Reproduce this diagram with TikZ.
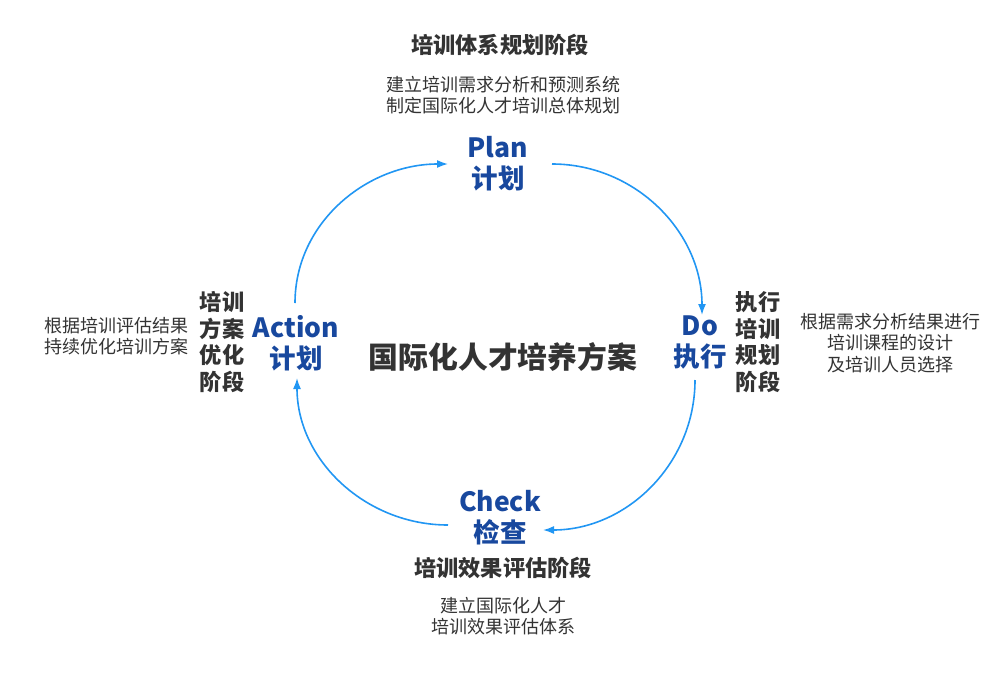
\documentclass[tikz,border=0pt]{standalone}
\usepackage{fontspec}
\setmainfont{Noto Sans CJK SC}
\usetikzlibrary{arrows.meta, positioning}
\definecolor{pdcablue}{RGB}{24,72,158}
\definecolor{arcblue}{RGB}{33,150,243}
\definecolor{textgray}{RGB}{51,51,51}

\begin{document}
\begin{tikzpicture}[
    x=1pt, y=1pt,
    every node/.style={inner sep=0pt, align=center, text=textgray},
    phase/.style={font=\fontsize{26.5}{31}\selectfont\bfseries, text=pdcablue},
    stage/.style={font=\fontsize{22.2}{26.7}\selectfont\bfseries},
    desc/.style={font=\fontsize{18}{21.5}\selectfont},
    title/.style={font=\fontsize{29.8}{34}\selectfont\bfseries},
    arrow/.style={-{Latex[length=11pt,width=8pt]}, line width=1.6pt, arcblue}
]
\useasboundingbox (0,0) rectangle (1007,-675);

\node[title] (main) at (503,-357) {国际化人才培养方案};

% PDCA phases
\node[phase] (plan) at (498,-164) {Plan\\计划};
\node[phase] (do)   at (700,-343) {Do\\执行};
\node[phase] (chk)  at (500,-518) {Check\\检查};
\node[phase] (act)  at (296,-343) {Action\\计划};

% stage titles and descriptions
\node[stage] (plantitle) at (500,-45) {培训体系规划阶段};
\node[desc]  (plandesc)  at (503,-95) {建立培训需求分析和预测系统\\制定国际化人才培训总体规划};

\node[stage] (dotitle) at (758,-342) {执行\\培训\\规划\\阶段};
\node[desc]  (dodesc)  at (890,-343) {根据需求分析结果进行\\培训课程的设计\\及培训人员选择};

\node[stage] (chktitle) at (503,-568) {培训效果评估阶段};
\node[desc]  (chkdesc)  at (503,-616) {建立国际化人才\\培训效果评估体系};

\node[stage] (acttitle) at (222,-342) {培训\\方案\\优化\\阶段};
\node[desc]  (actdesc)  at (116,-336) {根据培训评估结果\\持续优化培训方案};

% cycle
\draw[arrow] ([xshift=-1pt,yshift=40pt]act.center) to[out=90,in=180] ([xshift=-50pt]plan.center);
\draw[arrow] ([xshift=54pt]plan.center) to[out=0,in=90] ([xshift=2pt,yshift=28pt]do.center);
\draw[arrow] ([xshift=-5pt,yshift=-37pt]do.center) to[out=-90,in=0] ([xshift=43pt,yshift=-12pt]chk.center);
\draw[arrow] ([xshift=-52pt,yshift=-7pt]chk.center) to[out=180,in=-90] ([xshift=1pt,yshift=-35pt]act.center);
\end{tikzpicture}
\end{document}
